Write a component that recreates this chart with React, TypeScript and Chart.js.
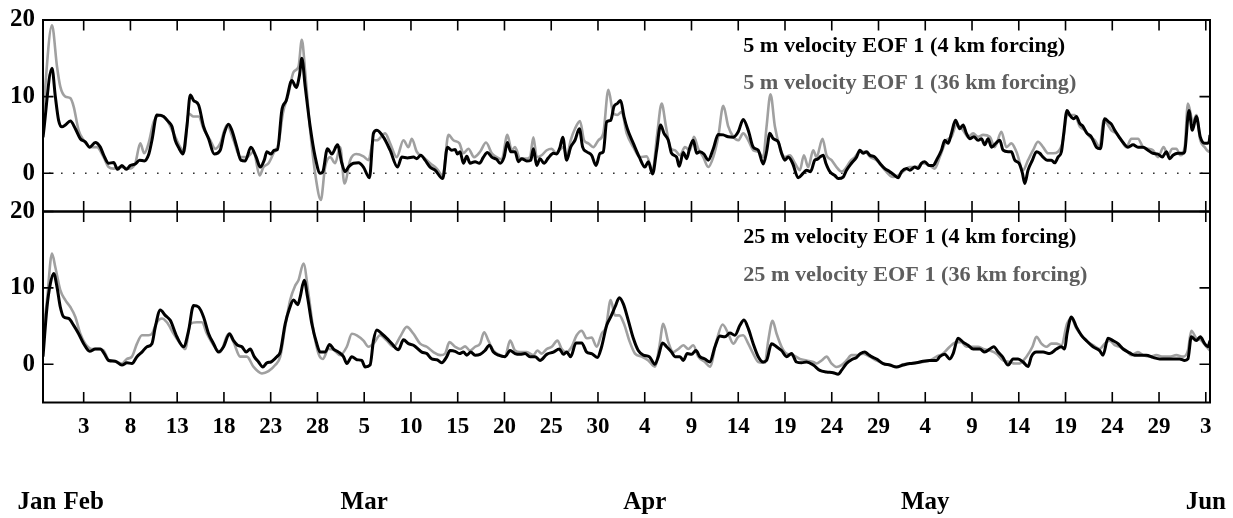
import React, { useEffect, useRef } from "react";
import { Chart, registerables } from "chart.js";

Chart.register(...registerables);

const FONT = '"Liberation Serif", "Times New Roman", serif';

// ---- axes (x = day of year, 1 = Jan 1) ----
const X_MIN = 29.65;
const X_MAX = 154.45;
const Y_MIN = -5;
const Y_MAX = 20;
const yTickValues = [0, 10, 20];
const xTickDays = [34, 39, 44, 49, 54, 59, 64, 69, 74, 79, 84, 89, 94, 99, 104, 109, 114, 119, 124, 129, 134, 139, 144, 149, 154];
const xTickLabels = ["3", "8", "13", "18", "23", "28", "5", "10", "15", "20", "25", "30", "4", "9", "14", "19", "24", "29", "4", "9", "14", "19", "24", "29", "3"];
const monthDays = [29, 34, 64, 94, 124, 154];
const monthLabels = ["Jan", "Feb", "Mar", "Apr", "May", "Jun"];

const legend5m = ["5 m velocity EOF 1 (4 km forcing)", "5 m velocity EOF 1 (36 km forcing)"];
const legend25m = ["25 m velocity EOF 1 (4 km forcing)", "25 m velocity EOF 1 (36 km forcing)"];

// ---- 5 m, 4 km forcing ----
const days5m4km = [29.65,30.61,30.97,31.32,31.68,32.04,32.57,33.11,33.64,34.17,34.64,35.24,35.78,36.13,36.67,37.2,37.63,38.09,38.56,38.98,39.52,39.98,40.48,40.94,41.3,41.83,42.55,43.08,43.44,43.79,44.22,44.61,45.04,45.4,45.75,46.29,46.82,47.36,47.96,48.6,49.03,49.49,49.85,50.38,50.81,51.27,51.88,52.45,52.88,53.31,53.59,54.02,54.37,54.73,55.19,55.66,56.26,56.73,57.08,57.33,57.69,58.22,58.76,59.29,59.58,60.07,60.54,61.14,61.61,61.96,62.32,62.85,63.39,63.92,64.56,64.99,65.35,66.06,66.77,67.56,68.02,68.62,69.27,69.62,70.05,70.51,71.05,71.58,72.4,72.9,73.36,73.72,73.97,74.25,74.61,74.97,75.32,75.86,76.32,76.75,77.17,77.64,78.17,78.53,78.96,79.31,79.67,80.13,80.49,80.84,81.38,81.81,82.09,82.45,82.8,83.23,83.69,84.23,84.58,84.94,85.23,85.65,86.08,86.54,87.01,87.36,87.79,88.32,88.79,89.22,89.57,89.93,90.36,90.71,91.07,91.42,91.78,92.14,92.78,93.42,94.02,94.38,94.84,95.27,95.7,96.06,96.52,96.87,97.41,97.69,98.12,98.48,98.83,99.19,99.55,99.9,100.33,100.79,101.33,101.86,102.4,102.93,103.47,104.0,104.53,105.07,105.6,106.14,106.67,107.03,107.38,107.74,108.27,108.63,108.99,109.34,109.81,110.41,110.95,111.3,111.73,112.19,112.44,112.73,113.09,113.37,113.8,114.33,114.69,115.22,115.58,116.11,116.65,117.0,117.36,117.72,118.07,118.61,119.14,119.68,120.21,120.74,121.1,121.46,121.99,122.35,122.88,123.24,123.59,123.95,124.41,124.84,125.2,125.73,126.09,126.44,126.8,127.23,127.69,128.05,128.4,128.76,129.19,129.65,130.01,130.36,130.72,131.08,131.54,131.97,132.32,132.86,133.21,133.57,134.03,134.39,134.64,134.99,135.46,135.89,136.24,136.6,137.03,137.49,137.84,138.2,138.56,138.81,139.16,139.45,139.88,140.16,140.52,140.87,141.3,141.76,142.3,142.73,143.19,143.62,143.9,144.26,144.72,145.22,145.68,146.22,146.75,147.29,147.82,148.35,148.89,149.35,149.78,150.14,150.49,151.03,151.56,151.74,152.2,152.56,152.99,153.41,153.88,154.34,154.45];
const vel5m4km = [4.7,13.7,10.0,6.9,6.05,6.3,6.8,5.8,4.5,4.1,3.4,4.0,3.4,2.4,1.3,1.4,0.5,1.0,0.5,1.0,1.2,1.7,1.6,2.4,4.3,7.6,7.4,6.7,6.1,4.3,3.2,2.5,6.1,10.2,9.5,8.9,6.1,4.5,2.5,3.0,5.2,6.4,5.6,3.4,1.7,1.6,3.4,2.1,0.8,1.7,2.8,2.5,3.0,3.1,8.2,9.5,12.1,11.2,12.8,15.0,11.3,6.1,2.1,0.0,0.2,3.2,2.5,3.7,1.3,0.2,0.8,1.3,1.35,0.8,-0.6,5.2,5.6,4.7,3.0,0.8,2.1,2.0,2.1,1.9,2.35,1.7,0.8,0.4,-0.7,3.4,3.0,3.1,2.5,2.8,1.3,2.2,1.3,1.5,1.3,2.1,2.7,2.1,1.8,1.3,2.1,4.0,2.8,2.8,1.5,1.9,1.6,1.7,3.2,1.0,1.9,1.3,2.0,2.6,2.5,3.4,4.7,1.7,3.4,4.3,5.8,3.4,2.8,2.35,1.0,2.6,2.8,6.7,6.9,8.7,9.1,9.5,7.4,5.8,3.9,2.1,0.8,1.5,-0.1,3.0,6.3,5.2,4.3,2.6,2.1,0.9,2.7,1.9,3.4,4.3,2.6,2.8,2.5,1.7,3.2,5.05,5.0,4.75,4.7,5.4,7.0,5.6,3.4,3.0,1.2,2.8,5.2,4.5,4.1,2.6,1.7,2.1,1.3,-0.6,0.0,0.4,0.2,1.7,1.8,2.1,2.35,1.3,0.2,-0.3,-0.7,-0.5,0.4,1.3,2.1,3.0,2.6,2.8,2.35,2.1,1.3,0.6,0.2,-0.3,-0.6,0.2,0.6,0.4,0.8,0.6,1.3,1.5,1.0,1.0,1.7,3.0,4.3,3.9,5.2,6.9,5.8,6.3,5.2,4.5,4.75,4.3,4.5,3.7,4.5,3.4,3.9,4.3,3.0,2.8,2.8,1.7,1.3,0.0,-1.35,0.4,1.7,2.8,2.6,2.1,1.7,1.7,1.35,2.1,2.8,5.2,8.2,7.6,7.1,7.4,6.5,6.1,5.2,4.75,3.4,3.2,7.1,6.7,6.4,5.6,4.75,3.9,3.4,3.7,3.4,3.4,3.0,2.6,2.5,2.1,2.8,1.9,2.35,2.6,2.6,2.8,8.2,5.6,7.4,4.75,3.9,4.0,5.0];

// ---- 5 m, 36 km forcing ----
const days5m36km = [29.65,30.61,31.15,31.5,32.04,32.57,32.93,33.46,34.0,34.71,35.42,36.13,36.67,37.2,37.92,38.81,39.52,40.05,40.48,40.94,41.48,42.19,42.9,43.62,44.33,44.75,45.22,45.75,46.29,46.82,47.53,48.07,48.6,49.32,50.03,50.74,51.45,52.17,52.81,53.23,53.77,54.3,54.84,55.3,55.91,56.44,56.97,57.33,57.69,58.22,58.86,59.36,59.82,60.36,60.89,61.43,61.89,62.5,63.14,63.92,64.46,64.99,65.35,66.24,66.77,67.48,68.2,68.73,69.09,69.62,70.33,71.05,71.76,72.4,73.01,73.54,74.18,74.61,75.14,75.75,76.39,77.03,77.64,78.17,78.71,79.31,79.77,80.13,80.67,81.2,81.73,82.09,82.45,82.98,83.52,84.05,84.51,84.87,85.3,85.65,86.08,86.54,87.08,87.51,87.97,88.5,89.04,89.57,90.11,90.64,91.07,91.53,92.07,92.78,93.49,94.2,94.84,95.34,95.81,96.27,96.77,97.23,97.77,98.3,98.83,99.26,99.72,100.26,100.79,101.33,101.86,102.4,102.93,103.47,104.0,104.53,105.07,105.6,106.14,106.67,107.03,107.45,107.92,108.45,108.99,109.52,110.06,110.59,111.02,111.48,112.02,112.37,113.01,113.44,113.98,114.51,115.04,115.58,115.94,116.47,117.0,117.54,118.14,118.79,119.68,120.57,121.1,121.81,122.35,123.06,123.77,124.49,125.02,125.55,126.27,126.8,127.34,128.05,128.58,129.12,129.65,130.19,130.9,131.43,132.14,132.68,133.21,133.75,134.46,134.99,135.53,136.06,136.6,137.13,137.67,138.2,138.74,139.16,139.63,139.98,140.52,141.05,141.59,142.12,142.65,143.08,143.54,143.9,144.44,144.97,145.5,146.04,146.75,147.29,147.82,148.35,148.89,149.49,149.96,150.42,150.85,151.27,151.74,152.09,152.63,152.99,153.41,153.88,154.34,154.45];
const vel5m36km = [7.8,19.3,13.9,11.3,10.0,9.8,8.7,5.6,4.3,3.4,3.4,2.1,0.8,0.6,0.8,0.6,1.3,3.9,2.6,3.9,6.7,7.6,6.9,5.2,3.4,2.8,7.8,7.4,7.4,5.8,4.3,3.2,3.9,6.3,4.3,2.1,2.1,2.8,-0.3,0.8,1.3,2.6,3.9,7.8,10.4,13.2,13.9,17.4,13.2,5.6,-0.9,-3.5,0.8,2.1,1.3,3.4,-1.35,1.7,2.5,2.2,1.7,4.3,4.3,5.2,3.9,2.1,4.3,3.4,4.5,2.8,2.1,1.3,0.6,-0.3,5.0,4.3,3.9,2.6,3.2,2.1,2.8,4.0,2.6,2.1,1.8,5.0,3.0,3.4,1.9,1.9,2.1,4.7,2.1,2.35,3.0,3.2,2.6,3.0,3.4,2.2,4.3,5.8,6.8,4.3,3.9,3.4,4.3,5.2,10.9,7.8,7.6,8.0,5.2,3.4,2.1,2.2,0.4,5.2,9.1,6.1,3.2,3.0,2.35,3.4,3.0,4.75,3.2,2.1,0.8,2.1,4.75,8.8,6.1,4.75,4.3,5.2,4.3,3.0,2.8,2.1,6.1,10.3,6.1,3.4,2.1,2.35,1.3,0.4,2.35,0.8,3.0,2.1,4.5,2.35,1.7,0.8,0.2,0.8,1.5,2.1,2.8,2.8,2.1,1.7,0.4,-0.5,-0.3,0.4,0.8,0.8,1.3,1.0,0.6,2.1,4.3,4.75,6.3,5.6,4.75,5.2,4.75,5.0,4.75,3.4,5.4,3.4,3.9,2.8,0.4,1.7,3.0,4.1,3.4,2.6,2.6,2.8,4.3,7.6,7.6,7.6,6.1,5.6,4.75,4.3,3.4,6.9,6.3,5.6,5.2,4.3,3.4,4.5,4.5,3.4,3.2,3.0,2.1,3.4,2.35,3.2,3.2,2.35,3.4,9.1,6.7,7.6,4.3,3.4,2.8,3.0];

// ---- 25 m, 4 km forcing ----
const days25m4km = [29.65,30.08,30.43,30.79,31.15,31.5,31.86,32.39,32.93,33.46,34.0,34.64,35.24,35.78,36.2,36.67,37.38,38.09,38.63,39.16,39.7,40.23,40.77,41.3,41.66,42.19,42.72,43.26,43.97,44.68,45.22,45.75,46.29,46.82,47.36,47.89,48.42,48.96,49.6,50.03,50.46,50.92,51.38,51.81,52.24,52.7,53.16,53.59,54.02,54.66,55.02,55.55,56.01,56.44,56.9,57.15,57.58,57.94,58.4,58.93,59.29,59.82,60.29,60.72,61.25,61.78,62.14,62.68,63.21,63.74,64.1,64.63,64.99,65.35,65.88,66.42,66.95,67.66,68.2,68.73,69.27,70.16,70.69,71.22,71.76,72.29,72.83,73.18,73.72,74.18,74.61,74.97,75.39,75.86,76.39,76.92,77.39,77.82,78.35,79.06,79.6,80.13,80.67,81.2,81.73,82.27,82.8,83.52,84.23,84.87,85.3,85.65,86.08,86.65,87.26,87.79,88.32,88.93,89.39,89.93,90.36,90.82,91.28,91.71,92.24,92.78,93.31,93.85,94.49,95.09,95.45,95.91,96.34,96.87,97.23,97.77,98.12,98.55,99.01,99.48,99.9,100.44,100.97,101.51,102.04,102.57,103.11,103.64,104.18,104.61,105.07,105.6,106.14,106.67,107.03,107.56,108.1,108.63,109.17,109.7,110.23,110.77,111.3,112.02,112.73,113.44,114.15,114.69,115.04,115.58,116.11,116.65,117.08,117.54,117.89,118.25,118.79,119.5,120.21,120.92,121.64,122.35,123.06,123.77,124.49,125.2,125.55,126.09,126.62,126.98,127.51,128.05,128.58,129.12,129.83,130.36,130.9,131.33,131.79,132.25,132.86,133.39,133.93,134.46,134.99,135.35,135.89,136.6,137.31,138.02,138.56,138.91,139.16,139.63,140.16,140.7,141.23,141.94,142.65,143.01,143.54,144.08,144.61,145.15,145.86,146.39,146.93,147.64,148.35,149.07,149.78,150.49,151.2,151.74,152.09,152.45,152.99,153.41,153.88,154.23,154.45];
const vel25m4km = [1.0,7.5,10.5,11.9,10.1,7.5,6.2,6.0,5.1,4.0,2.7,1.7,2.0,2.0,1.4,0.5,0.4,-0.1,0.2,0.1,1.0,1.6,2.3,2.7,4.9,7.1,6.4,5.75,3.6,2.3,4.4,7.7,7.5,6.2,4.0,2.7,1.6,2.3,4.0,3.1,2.5,2.3,1.6,2.0,1.0,0.3,-0.35,0.2,0.3,1.0,1.6,5.3,7.3,8.4,7.8,8.8,11.0,8.8,5.3,2.7,1.6,1.6,2.6,2.0,1.6,1.0,0.1,1.0,0.6,0.5,-0.35,-0.1,3.1,4.5,4.0,3.4,2.7,1.9,3.2,2.7,2.5,1.6,1.4,0.7,0.6,0.2,1.0,1.8,1.7,1.4,1.6,1.2,1.6,1.2,1.3,1.8,2.5,1.6,1.2,1.0,1.8,1.4,1.3,1.4,1.0,1.0,0.5,1.3,1.6,2.0,1.3,1.6,1.0,2.8,2.8,1.6,1.4,0.9,2.3,5.1,6.2,7.5,8.7,7.9,5.75,3.4,1.8,1.2,1.0,0.0,1.0,2.8,2.3,1.6,1.0,1.0,0.5,1.4,1.3,1.8,1.0,0.7,0.3,2.3,3.7,3.6,4.1,3.8,5.1,5.8,4.7,2.7,1.0,0.3,0.5,2.7,2.3,1.8,1.0,1.4,0.3,0.2,0.3,-0.1,-0.8,-1.0,-1.1,-1.3,-0.8,0.1,0.6,0.9,1.4,1.6,1.3,1.0,0.7,0.1,-0.1,-0.35,-0.1,0.1,0.2,0.4,0.5,0.5,1.0,1.3,0.7,1.4,3.4,2.9,2.5,2.0,2.0,1.6,2.0,2.3,1.6,1.0,-0.1,0.7,0.7,0.3,-0.3,1.0,1.6,1.6,1.4,2.0,2.3,2.0,4.0,6.2,4.9,3.8,3.1,2.3,1.8,1.2,3.4,3.1,2.7,2.0,1.5,1.2,1.2,1.2,0.9,0.7,0.7,0.7,0.7,0.5,0.7,3.6,3.1,3.6,2.7,2.3,3.1];

// ---- 25 m, 36 km forcing ----
const days25m36km = [29.65,30.08,30.61,30.97,31.5,32.04,32.57,33.11,33.64,34.17,34.89,35.6,36.13,36.67,37.38,38.09,38.63,39.16,39.7,40.23,40.94,41.3,41.83,42.37,42.9,43.62,44.33,44.86,45.4,46.11,46.64,47.18,47.89,48.6,49.49,50.03,50.74,51.45,52.17,53.06,53.77,54.48,55.02,55.55,56.08,56.62,56.97,57.51,58.04,58.58,59.11,59.58,60.18,60.72,61.43,62.14,62.68,63.21,63.92,64.46,64.99,65.7,66.42,67.13,67.84,68.55,69.27,69.98,70.69,71.4,72.12,72.65,73.11,73.72,74.25,74.79,75.32,75.86,76.39,76.82,77.28,77.82,78.53,79.06,79.6,80.13,80.67,81.38,82.09,82.52,82.98,83.52,84.05,84.66,85.12,85.65,86.19,86.72,87.26,87.79,88.32,88.86,89.39,89.86,90.36,90.82,91.28,91.78,92.35,92.96,93.67,94.38,95.09,95.56,95.98,96.52,97.05,97.59,98.12,98.66,99.19,99.72,100.44,100.97,101.68,102.33,102.93,103.47,104.0,104.53,105.07,105.6,106.14,106.85,107.21,107.67,108.1,108.63,109.17,109.88,110.59,111.3,112.02,112.37,112.91,113.44,113.98,114.51,115.04,115.58,116.11,116.65,117.36,118.07,118.79,119.5,120.21,120.92,121.64,122.35,123.06,123.77,124.49,125.2,125.91,126.62,127.34,127.87,128.4,129.12,129.65,130.19,130.9,131.61,132.32,133.04,133.57,134.1,134.82,135.46,135.89,136.42,136.95,137.49,138.02,138.56,139.16,139.63,140.16,140.7,141.23,141.94,142.65,143.19,143.72,144.26,144.79,145.5,146.04,146.75,147.29,148.0,148.71,149.42,150.14,150.85,151.56,152.09,152.45,152.99,153.52,154.06,154.45];
const vel25m36km = [4.0,8.4,14.5,12.7,9.7,8.4,7.5,6.2,4.0,2.7,2.0,2.0,1.8,0.6,0.4,0.1,0.7,1.0,2.7,3.8,3.8,4.0,5.5,6.0,5.5,4.0,2.7,2.0,5.3,5.5,5.5,4.0,2.5,1.6,4.0,2.9,1.0,1.0,-0.35,-1.2,-0.9,-0.1,1.0,4.9,8.4,10.3,11.0,13.2,9.2,4.4,1.4,0.7,2.0,1.9,1.2,2.3,4.0,3.8,3.1,2.3,2.7,3.8,3.1,2.3,3.6,4.9,4.0,2.7,2.3,1.6,1.2,1.4,2.9,2.3,2.0,2.35,1.8,2.3,2.7,4.2,3.1,1.8,1.2,1.0,3.1,1.8,1.6,1.6,1.2,1.8,1.4,2.0,2.3,3.1,2.0,1.6,2.3,3.8,4.4,3.4,3.5,2.3,4.0,4.9,8.4,6.4,6.4,5.3,3.1,1.4,1.0,0.5,-0.3,2.3,5.3,2.9,1.6,2.0,2.5,2.0,2.5,1.0,0.3,-0.3,3.1,5.2,4.0,2.7,3.6,3.8,2.7,1.4,0.3,0.2,3.1,5.7,4.0,2.3,1.4,1.2,0.7,0.5,0.3,0.1,0.5,1.0,0.1,-0.35,-0.1,0.5,1.2,1.2,1.4,1.0,0.5,0.1,-0.1,-0.35,0.0,0.1,0.2,0.3,0.5,1.0,1.4,2.3,2.9,2.9,2.3,2.3,2.3,2.0,1.8,1.4,0.5,0.3,0.1,0.1,1.0,2.3,3.6,2.7,2.3,2.7,2.7,2.5,5.3,6.0,4.7,3.8,3.1,2.5,2.0,2.7,3.1,2.5,2.3,1.8,1.2,1.6,1.2,1.0,1.2,1.0,1.0,1.2,1.0,1.8,4.4,3.4,3.1,2.3,1.8];

const BLACK = "#000000";
const GRAY_LINE = "#a0a0a0";
const GRAY_TEXT = "#5e5e5e";

function toPoints(days: number[], vals: number[]) {
  return days.map((d, i) => ({ x: d, y: vals[i] }));
}

const framePlugin = {
  id: "frame",
  beforeDatasetsDraw(chart: any, _args: any, opts: any) {
    if (!opts.zeroLine) return;
    const { ctx, chartArea: a, scales } = chart;
    const y0 = scales.y.getPixelForValue(0);
    ctx.save();
    ctx.setLineDash([1.6, 10.4]);
    ctx.strokeStyle = "#333";
    ctx.lineWidth = 1.6;
    ctx.beginPath();
    ctx.moveTo(a.left + 6, y0);
    ctx.lineTo(a.right, y0);
    ctx.stroke();
    ctx.restore();
  },
  afterDatasetsDraw(chart: any) {
    const { ctx, chartArea: a, scales } = chart;
    const TL = 10.5;
    ctx.save();
    ctx.strokeStyle = "#000";
    ctx.lineWidth = 1.6;
    ctx.beginPath();
    for (const d of xTickDays) {
      const px = scales.x.getPixelForValue(d);
      ctx.moveTo(px, a.top);
      ctx.lineTo(px, a.top + TL);
      ctx.moveTo(px, a.bottom);
      ctx.lineTo(px, a.bottom - TL);
    }
    for (const v of yTickValues) {
      const py = scales.y.getPixelForValue(v);
      ctx.moveTo(a.left, py);
      ctx.lineTo(a.left + TL, py);
      ctx.moveTo(a.right, py);
      ctx.lineTo(a.right - TL, py);
    }
    ctx.stroke();
    ctx.lineWidth = 2;
    ctx.strokeRect(a.left, a.top, a.right - a.left, a.bottom - a.top);
    ctx.restore();
  },
  afterDraw(chart: any, _args: any, opts: any) {
    const { ctx, chartArea: a, scales } = chart;
    ctx.save();
    const lx = a.left + 0.6 * (a.right - a.left);
    const offsets = [31.7, 69.3];
    const colors = [BLACK, GRAY_TEXT];
    ctx.font = `bold 20px ${FONT}`;
    ctx.textAlign = "left";
    ctx.textBaseline = "alphabetic";
    (opts.legend as string[]).forEach((t, i) => {
      ctx.save();
      ctx.translate(lx, a.top + offsets[i]);
      ctx.scale(1.11, 1);
      ctx.fillStyle = colors[i];
      ctx.fillText(t, 0, 0);
      ctx.restore();
    });
    if (opts.months) {
      ctx.font = `bold 25px ${FONT}`;
      ctx.textAlign = "center";
      ctx.fillStyle = "#000";
      monthDays.forEach((d, i) => {
        ctx.fillText(monthLabels[i], scales.x.getPixelForValue(d), a.bottom + 106.5);
      });
    }
    ctx.restore();
  },
};

function buildConfig(p: {
  black: { x: number; y: number }[];
  gray: { x: number; y: number }[];
  legend: string[];
  zeroLine: boolean;
  showX: boolean;
  padTop: number;
  padBottom: number;
  xHeight: number;
}): any {
  return {
    type: "line",
    data: {
      datasets: [
        {
          label: p.legend[0],
          data: p.black,
          borderColor: BLACK,
          borderWidth: 3,
          pointRadius: 0,
          fill: false,
          cubicInterpolationMode: "monotone",
        },
        {
          label: p.legend[1],
          data: p.gray,
          borderColor: GRAY_LINE,
          borderWidth: 2.6,
          pointRadius: 0,
          fill: false,
          cubicInterpolationMode: "monotone",
        },
      ],
    },
    options: {
      responsive: false,
      animation: false,
      events: [],
      layout: { padding: { top: p.padTop, bottom: p.padBottom, left: 0, right: 23 } },
      plugins: {
        legend: { display: false },
        tooltip: { enabled: false },
        frame: { zeroLine: p.zeroLine, legend: p.legend, months: p.showX },
      },
      scales: {
        x: {
          type: "linear",
          min: X_MIN,
          max: X_MAX,
          display: p.showX,
          grid: { display: false, drawTicks: false },
          border: { display: false },
          afterBuildTicks: (s: any) => {
            s.ticks = xTickDays.map((v) => ({ value: v }));
          },
          ticks: {
            display: p.showX,
            autoSkip: false,
            maxRotation: 0,
            minRotation: 0,
            padding: 11,
            color: "#000",
            font: { family: FONT, size: 23, weight: "bold" },
            callback: (_v: any, i: number) => xTickLabels[i],
          },
          afterFit: (s: any) => {
            s.height = p.showX ? p.xHeight : 0;
            s.paddingLeft = 0;
            s.paddingRight = 0;
          },
        },
        y: {
          type: "linear",
          min: Y_MIN,
          max: Y_MAX,
          grid: { display: false, drawTicks: false },
          border: { display: false },
          afterBuildTicks: (s: any) => {
            s.ticks = yTickValues.map((v) => ({ value: v }));
          },
          ticks: {
            padding: 8,
            color: "#000",
            font: { family: FONT, size: 25, weight: "bold" },
            callback: (v: any) => String(v),
          },
          afterFit: (s: any) => {
            s.width = 43;
            s.paddingTop = 0;
            s.paddingBottom = 0;
          },
        },
      },
    },
    plugins: [framePlugin],
  };
}

export default function App() {
  const topRef = useRef<HTMLCanvasElement>(null);
  const botRef = useRef<HTMLCanvasElement>(null);

  useEffect(() => {
    const top = new Chart(
      topRef.current as HTMLCanvasElement,
      buildConfig({
        black: toPoints(days5m4km, vel5m4km),
        gray: toPoints(days5m36km, vel5m36km),
        legend: legend5m,
        zeroLine: true,
        showX: false,
        padTop: 20,
        padBottom: 4.5,
        xHeight: 0,
      })
    );
    const bottom = new Chart(
      botRef.current as HTMLCanvasElement,
      buildConfig({
        black: toPoints(days25m4km, vel25m4km),
        gray: toPoints(days25m36km, vel25m36km),
        legend: legend25m,
        zeroLine: false,
        showX: true,
        padTop: 20.5,
        padBottom: 0,
        xHeight: 115.5,
      })
    );
    return () => {
      top.destroy();
      bottom.destroy();
    };
  }, []);

  return (
    <div style={{ position: "absolute", left: 0, top: 0, width: 1233, height: 518, background: "#fff" }}>
      <canvas ref={topRef} width={1233} height={216} style={{ position: "absolute", left: 0, top: 0 }} />
      <canvas ref={botRef} width={1233} height={327} style={{ position: "absolute", left: 0, top: 191 }} />
    </div>
  );
}
